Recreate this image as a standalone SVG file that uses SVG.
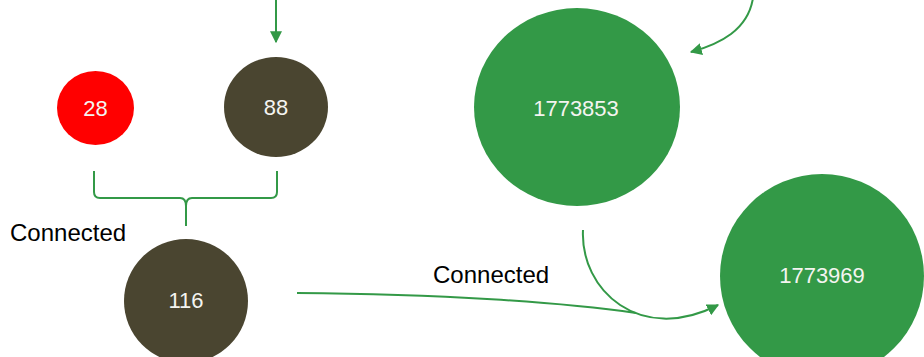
<svg xmlns="http://www.w3.org/2000/svg" width="924" height="357" viewBox="0 0 924 357">
<style>
.lbl{font-family:"Liberation Sans",Arial,sans-serif;font-size:22px;fill:#f4f4f0;text-anchor:middle}
.cap{font-family:"Liberation Sans",Arial,sans-serif;font-size:24px;fill:#000}
.edge{fill:none;stroke:#339947;stroke-width:2}
</style>
<defs>
<marker id="ah" viewBox="0 0 10 10" refX="9" refY="5" markerWidth="12" markerHeight="12" markerUnits="userSpaceOnUse" orient="auto">
<path d="M0,0 L10,5 L0,10 z" fill="#339947"/>
</marker>
</defs>
<rect width="924" height="357" fill="#fff"/>
<g id="connectors">
<path class="edge" d="M276,0 L276,42" marker-end="url(#ah)"/>
<path class="edge" d="M753,-2 C748,30 720,44 691,52" marker-end="url(#ah)"/>
<path class="edge" d="M94,171 L94,192 Q94,198 100,198 L180,198 Q186,198 186,206 L186,226 M186,206 Q186,198 192,198 L271,198 Q277,198 277,192 L277,171"/>
<path class="edge" d="M583,230 C580,290 640,345 718,305" marker-end="url(#ah)"/>
<path class="edge" d="M297,293 C440,294 560,302 636,313"/>
</g>
<g id="n28"><ellipse cx="95.5" cy="108" rx="38.5" ry="37" fill="#ff0000"/><text class="lbl" x="95.5" y="116">28</text></g>
<g id="n88"><ellipse cx="276" cy="107" rx="52" ry="50" fill="#4a4530"/><text class="lbl" x="276" y="115">88</text></g>
<g id="n116"><ellipse cx="186" cy="301" rx="62" ry="62" fill="#4a4530"/><text class="lbl" x="186" y="308">116</text></g>
<g id="n1773853"><ellipse cx="577" cy="107" rx="103" ry="99" fill="#339947"/><text class="lbl" x="576" y="116">1773853</text></g>
<g id="n1773969"><ellipse cx="822" cy="276" rx="102" ry="102" fill="#339947"/><text class="lbl" x="822" y="283">1773969</text></g>
<text class="cap" x="10" y="241">Connected</text>
<text class="cap" x="433" y="283">Connected</text>
</svg>
